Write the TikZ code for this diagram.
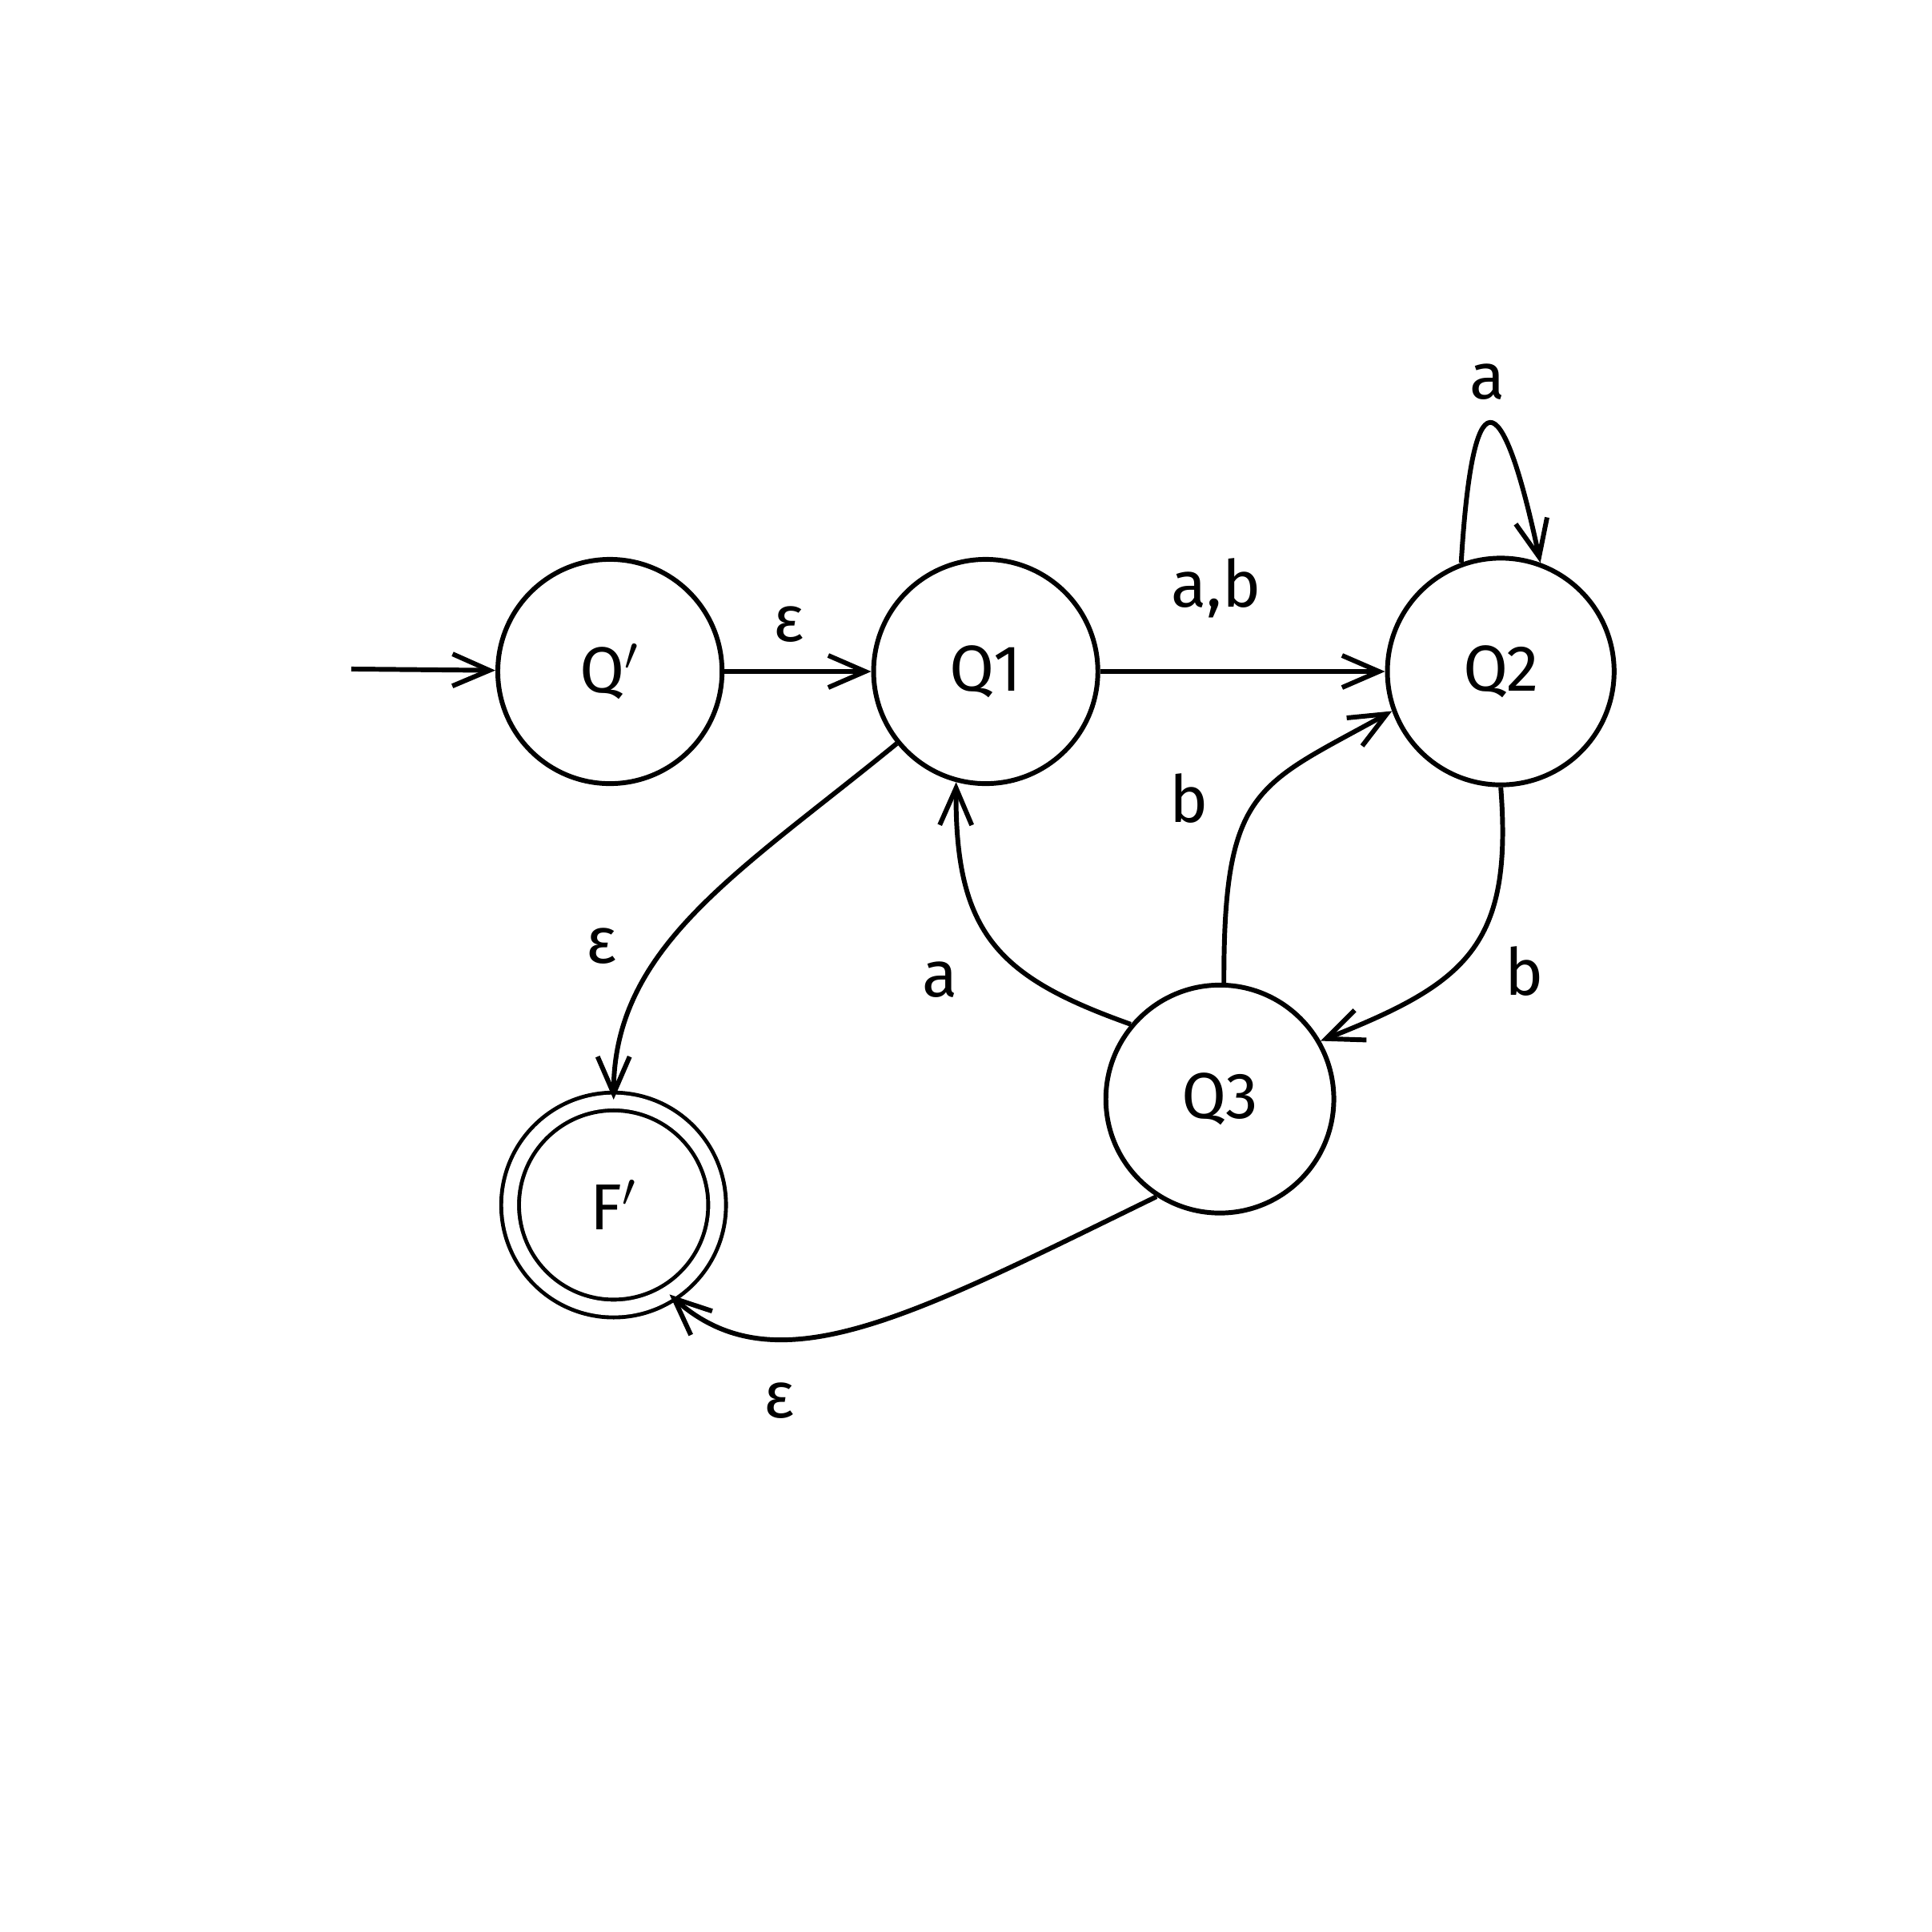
\documentclass[tikz,border=0pt]{standalone}
\usepackage{fontspec}
\setmainfont{Fira Sans}
\usetikzlibrary{arrows.meta}
\tikzset{
  state/.style={draw, circle, line width=1.1pt, minimum size=1.82cm, inner sep=0pt, font=\fontsize{15}{17}\selectfont},
  final/.style={state, double, double distance=3.2pt, line width=0.9pt, minimum size=1.68cm},
  lbl/.style={font=\fontsize{15}{17}\selectfont},
  edge/.style={line width=1.1pt, -{Straight Barb[length=3mm,width=2.6mm]}}
}
\begin{document}
\begin{tikzpicture}[x=1cm,y=1cm]
\useasboundingbox (0,0) rectangle (15.68,15.68);

\node[state] (qp) at (4.95,10.23) {Q$'$};
\node[state] (q1) at (8.00,10.23) {Q1};
\node[state, minimum size=1.84cm] (q2) at (12.18,10.23) {Q2};
\node[state, minimum size=1.85cm] (q3) at (9.90,6.76) {Q3};
\node[final] (f) at (4.98,5.90) {F$'$};

\coordinate (start) at (2.85,10.25);
\draw[edge] (start) -- (qp);

\draw[edge] (qp) -- (q1);
\node[lbl] (e1) at (6.40,10.61) {ε};

\draw[edge] (q1) -- (q2);
\node[lbl] (ab) at (9.87,10.91) {a,b};

\draw[edge] (q2.110) .. controls (11.95,12.62) and (12.18,12.62) .. (q2.70);
\node[lbl] (a2) at (12.07,12.58) {a};

\draw[edge] (q2.south) .. controls (12.28,8.0) and (11.9,7.7) .. (q3.30);
\node[lbl] (b1) at (12.37,7.80) {b};

\draw[edge] (q3.88) .. controls (9.93,9.3) and (10.2,9.3) .. (q2.200);
\node[lbl] (b2) at (9.65,9.20) {b};

\draw[edge] (q3.140) .. controls (8.1,7.75) and (7.75,8.1) .. (q1.255);
\node[lbl] (a1) at (7.63,7.73) {a};

\draw[edge] (q1.219) .. controls (6.0,8.6) and (4.98,8.0) .. (f.north);
\node[lbl] (e2) at (4.88,8.00) {ε};

\draw[edge] (q3.237) .. controls (7.4,5.0) and (6.3,4.4) .. (f.302);
\node[lbl] (e3) at (6.32,4.31) {ε};
\end{tikzpicture}
\end{document}
